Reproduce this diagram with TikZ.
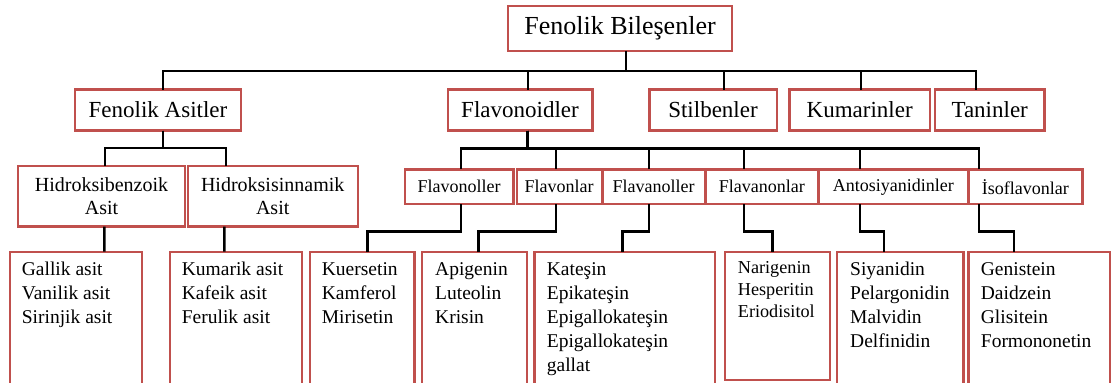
\documentclass[tikz,border=0pt]{standalone}
\usepackage{fontspec}
\setmainfont{Liberation Serif}
\usepackage{xcolor}
\usepackage{tikz}
\usetikzlibrary{calc}
\definecolor{kutukirmizi}{RGB}{192,80,77}

\begin{document}
\begin{tikzpicture}[x=1pt,y=-1pt,
  kutu/.style={draw=kutukirmizi,line width=2.4pt,fill=white,inner sep=0pt,outer sep=0pt,align=center},
  ust/.style={kutu,minimum height=41,font=\fontsize{23}{27}\selectfont},
  orta/.style={kutu,minimum height=60.7,font=\fontsize{20}{23.4}\selectfont},
  alt/.style={kutu,minimum height=34.7,font=\fontsize{18}{21}\selectfont},
  yaprak/.style={kutu,anchor=north west,minimum height=148.3},
  yazi/.style={anchor=north west,inner sep=0pt,align=left,font=\fontsize{19.5}{24}\selectfont},
  baglanti/.style={draw=black,line width=2.6pt}]
\useasboundingbox (0,0) rectangle (1117,383);
\fill[white] (0,0) rectangle (1117,383);

\node[kutu,minimum width=224,minimum height=45,font=\fontsize{26}{30}\selectfont] (kok) at (620,28.5) {Fenolik Bileşenler};

\node[ust,minimum width=166] (fa) at (158,110) {Fenolik Asitler};
\node[ust,minimum width=144.6] (fl) at (520,110) {Flavonoidler};
\node[ust,minimum width=127.4] (st) at (713,110) {Stilbenler};
\node[ust,minimum width=140.7] (ku) at (859.7,110) {Kumarinler};
\node[ust,minimum width=109.3] (ta) at (989.7,110) {Taninler};

\node[orta,minimum width=167] (hb) at (101.5,196.3) {Hidroksibenzoik\\Asit};
\node[orta,minimum width=170] (hs) at (272.7,196.3) {Hidroksisinnamik\\Asit};

\node[alt,minimum width=108.6] (fo) at (459,186.7) {Flavonoller};
\node[alt,minimum width=85] (fn) at (559.2,186.7) {Flavonlar};
\node[alt,minimum width=102.7] (fv) at (653.7,186.7) {Flavanoller};
\node[alt,minimum width=111.7] (fnn) at (761.9,186.7) {Flavanonlar};
\node[alt,minimum width=148.7] (an) at (893.4,186.7) {Antosiyanidinler};
\node[alt,minimum width=114] (is) at (1025.3,186.7) {İsoflavonlar};

\node[yaprak,minimum width=131.7] (l1) at (10,251.7) {};
\node[yaprak,minimum width=131.7] (l2) at (170,251.7) {};
\node[yaprak,minimum width=104.3] (l3) at (310,251.7) {};
\node[yaprak,minimum width=105] (l4) at (421.7,251.7) {};
\node[yaprak,minimum width=180.7] (l5) at (534.3,251.7) {};
\node[yaprak,minimum width=105,minimum height=128.3] (l6) at (725,251.7) {};
\node[yaprak,minimum width=126.6] (l7) at (836.7,251.7) {};
\node[yaprak,minimum width=141.7] (l8) at (968.3,251.7) {};

\node[yazi] (t1) at ([shift={(11.7,6.5)}]l1.north west) {\strut Gallik asit\\Vanilik asit\\Sirinjik asit};
\node[yazi] (t2) at ([shift={(11.7,6.5)}]l2.north west) {\strut Kumarik asit\\Kafeik asit\\Ferulik asit};
\node[yazi] (t3) at ([shift={(11.7,6.5)}]l3.north west) {\strut Kuersetin\\Kamferol\\Mirisetin};
\node[yazi] (t4) at ([shift={(13.3,6.5)}]l4.north west) {\strut Apigenin\\Luteolin\\Krisin};
\node[yazi] (t5) at ([shift={(12.4,6.5)}]l5.north west) {\strut Kateşin\\Epikateşin\\Epigallokateşin\\Epigallokateşin\\gallat};
\node[yazi,font=\fontsize{18.2}{22.3}\selectfont] (t6) at ([shift={(12.7,5.7)}]l6.north west) {\strut Narigenin\\Hesperitin\\Eriodisitol};
\node[yazi] (t7) at ([shift={(13.3,6.5)}]l7.north west) {\strut Siyanidin\\Pelargonidin\\Malvidin\\Delfinidin};
\node[yazi] (t8) at ([shift={(12.4,6.5)}]l8.north west) {\strut Genistein\\Daidzein\\Glisitein\\Formononetin};

\foreach \k/\d in {fa/5,fl/8,st/11,ku/1.3,ta/-13.7}
  \draw[baglanti] ([xshift=6pt]kok.south) -- ++(0,20) -| ([xshift=\d pt]\k.north);
\foreach \k/\d in {hb/3.5,hs/-46.7}
  \draw[baglanti] ([xshift=5pt]fa.south) -- ++(0,17.5) -| ([xshift=\d pt]\k.north);
\foreach \k/\d in {fo/2,fn/-3.2,fv/-4.7,fnn/-17.9,an/-33.4,is/-46.3}
  \draw[baglanti] ([xshift=7.5pt]fl.south) -- ++(0,18) -| ([xshift=\d pt]\k.north);
\draw[baglanti] ([xshift=2.8pt]hb.south) -- ([xshift=28.45pt]l1.north);
\draw[baglanti] ([xshift=-48.4pt]hs.south) -- ([xshift=-11.55pt]l2.north);
\foreach \u/\k/\a/\b in {fo/l3/2/5.5,fn/l4/-3.2/4.1,fv/l5/-4.7/-2.35,fnn/l6/-17.9/-5.2,an/l7/-33.4/-16,is/l8/-46.3/-25.15}
  \draw[baglanti] ([xshift=\a pt]\u.south) -- ++(0,27.7) -| ([xshift=\b pt]\k.north);
\end{tikzpicture}
\end{document}
